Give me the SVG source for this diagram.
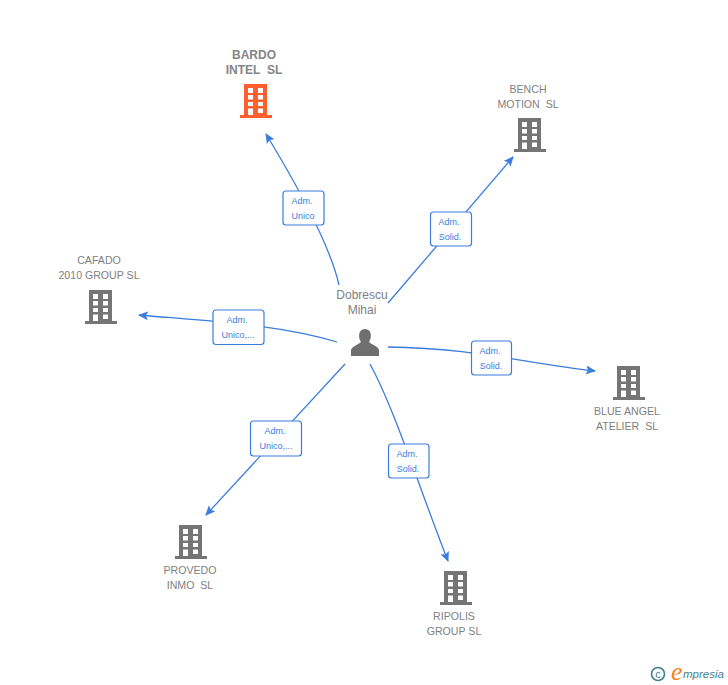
<svg xmlns="http://www.w3.org/2000/svg" width="728" height="685" viewBox="0 0 728 685">
<style>
text{font-family:"Liberation Sans",Arial,sans-serif}
.n{font-size:10.6px;fill:#808080;text-anchor:middle}
.b{font-weight:bold;font-size:12px;fill:#858585}
.p{font-size:12px}
.l{font-size:9px;fill:#3b7ddd;text-anchor:middle}
.c{fill:none;stroke:#3b7ddd;stroke-width:1.3;marker-end:url(#a)}
.r{fill:#fff;stroke:#3b7ddd;stroke-width:1.2}
</style>
<defs>
<marker id="a" markerUnits="userSpaceOnUse" markerWidth="11" markerHeight="10" refX="9" refY="4.5" orient="auto"><path d="M0 0L10 4.5L0 9L2 4.5Z" fill="#3b7ddd"/></marker>
<path id="bld" fill-rule="evenodd" d="M4 0H27V31H32V34H0V31H4ZM8 4V9H13V4ZM18 4V9H23V4ZM8 11V15.500H13V11ZM18 11V15.500H23V11ZM8 18V22H13V18ZM18 18V22H23V18ZM8 24.500V31H13V24.500ZM18 24.500V29H23V24.500Z"/>
</defs>
<g id="connectors">
<path class="c" d="M339 285C330 245 300 190 266 134"/>
<path class="c" d="M388 303L513 157"/>
<path class="c" d="M388 347C470 348 520 362 595 371"/>
<path class="c" d="M370 364C395 410 420 490 448 561"/>
<path class="c" d="M345 364L206 515"/>
<path class="c" d="M337 342C280 325 220 322 139 315"/>
</g>
<g id="edge-labels">
<g id="l1"><rect class="r" x="283" y="191" width="41" height="34" rx="3"/><text class="l" x="302" y="204">Adm.</text><text class="l" x="303" y="219">Unico</text></g>
<g id="l2"><rect class="r" x="430.500" y="212" width="41" height="34" rx="3"/><text class="l" x="449" y="225">Adm.</text><text class="l" x="450" y="240">Solid.</text></g>
<g id="l3"><rect class="r" x="471.500" y="341" width="40" height="34" rx="3"/><text class="l" x="490" y="354">Adm.</text><text class="l" x="491" y="369">Solid.</text></g>
<g id="l4"><rect class="r" x="388.500" y="444" width="40.500" height="34" rx="3"/><text class="l" x="407" y="457">Adm.</text><text class="l" x="408" y="472">Solid.</text></g>
<g id="l5"><rect class="r" x="250.500" y="421" width="51" height="35" rx="3"/><text class="l" x="275" y="434">Adm.</text><text class="l" x="276" y="449">Unico,...</text></g>
<g id="l6"><rect class="r" x="213" y="310" width="51" height="34.500" rx="3"/><text class="l" x="237" y="323">Adm.</text><text class="l" x="238" y="338">Unico,...</text></g>
</g>
<g id="center"><text class="n p" x="362" y="299">Dobrescu</text><text class="n p" x="362" y="314">Mihai</text>
<path fill="#6f6f6f" d="M351 356V350C352 346 358 345 361 342C358 338 358 329 365 329C372 329 372 338 369 342C372 345 378 346 379 350V356Z"/></g>
<g id="bardo"><text class="n b" x="254" y="59">BARDO</text><text class="n b" x="254" y="74" xml:space="preserve">INTEL  SL</text><use href="#bld" x="240" y="84" fill="#ff5f2e"/></g>
<g id="bench"><text class="n" x="528" y="93">BENCH</text><text class="n" x="528" y="108" xml:space="preserve">MOTION  SL</text><use href="#bld" x="514" y="118" fill="#757575"/></g>
<g id="cafado"><text class="n" x="99" y="264">CAFADO</text><text class="n" x="99" y="279">2010 GROUP SL</text><use href="#bld" x="85" y="290" fill="#757575"/></g>
<g id="blue"><text class="n" x="627" y="415">BLUE ANGEL</text><text class="n" x="627" y="430" xml:space="preserve">ATELIER  SL</text><use href="#bld" x="613" y="366" fill="#757575"/></g>
<g id="provedo"><text class="n" x="190" y="574">PROVEDO</text><text class="n" x="190" y="589" xml:space="preserve">INMO  SL</text><use href="#bld" x="175" y="525" fill="#757575"/></g>
<g id="ripolis"><text class="n" x="454" y="620">RIPOLIS</text><text class="n" x="454" y="635">GROUP SL</text><use href="#bld" x="440" y="571" fill="#757575"/></g>
<g id="logo"><circle cx="658" cy="674" r="6.500" fill="none" stroke="#3f7f8f" stroke-width="1.600"/><text x="658" y="678" font-size="11" fill="#3f7f8f" text-anchor="middle">c</text><text x="671" y="680" font-size="26" font-style="italic" fill="#f58220" style="font-family:'Liberation Serif',serif">e</text><text x="683" y="678" font-size="11.500" font-style="italic" fill="#3f7f8f">mpresia</text></g>
</svg>
